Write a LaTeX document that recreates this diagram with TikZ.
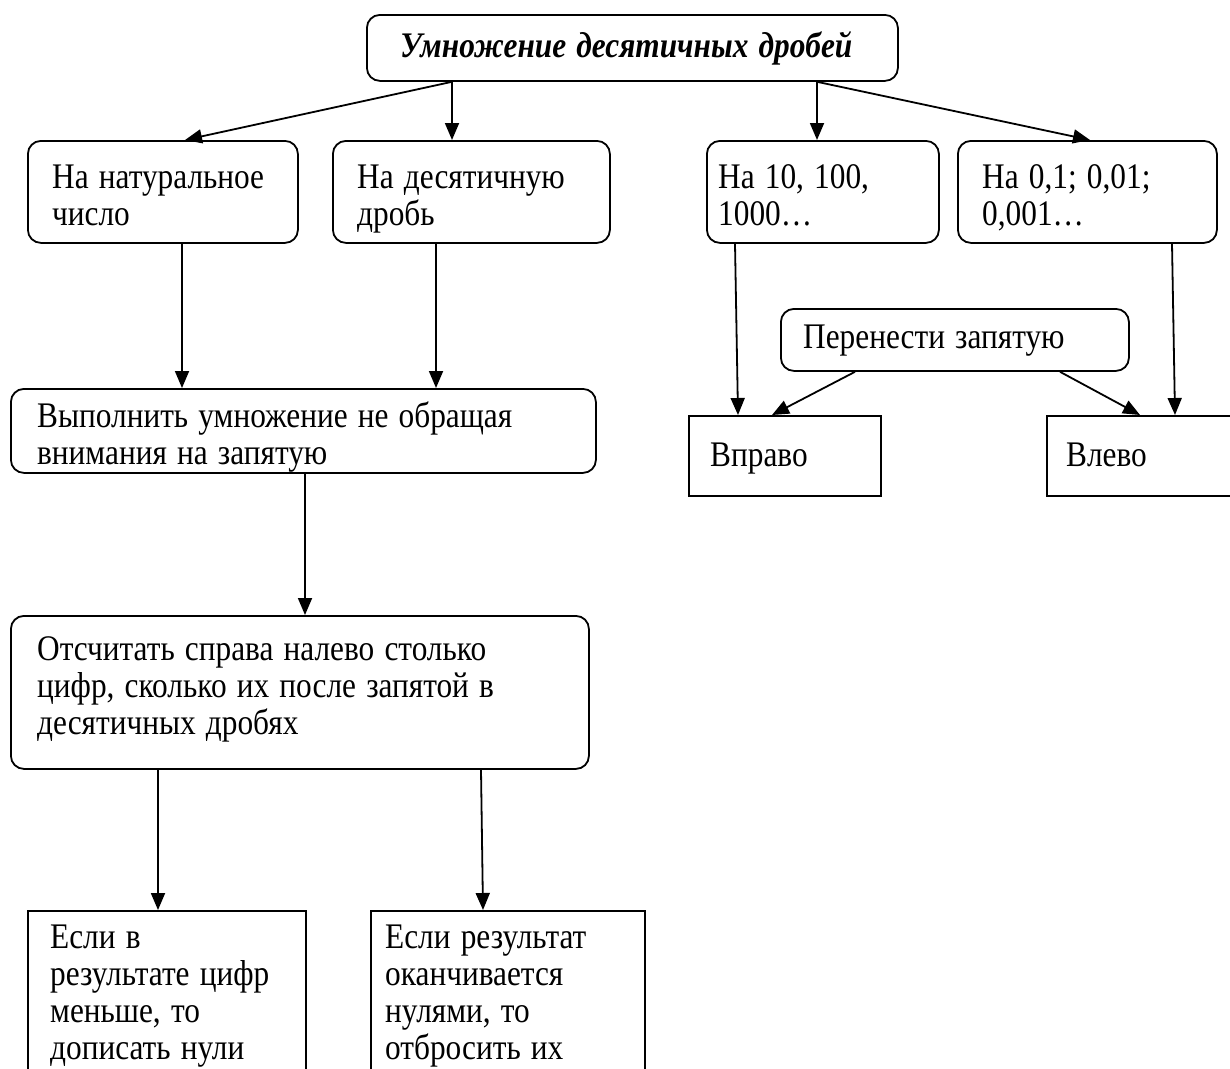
\documentclass[tikz,border=0pt]{standalone}
\usepackage{fontspec}
\setmainfont[FakeStretch=0.87,WordSpace=1.3]{Liberation Serif}
\usetikzlibrary{arrows.meta,calc}
\begin{document}
\begin{tikzpicture}[x=1pt,y=-1pt,
  box/.style={draw, line width=1.8pt, rounded corners=13pt, inner sep=0pt, anchor=north west},
  sbox/.style={box, rounded corners=0pt},
  txt/.style={align=left, inner sep=0pt, anchor=north west,
    font=\fontsize{36}{37}\selectfont, execute at begin node=\strut},
  arr/.style={line width=1.8pt, -{Triangle[length=17pt,width=14pt]}}]
\clip (0,0) rectangle (1230,1068);
\fill[white] (0,0) rectangle (1230,1068);

% boxes
\node[box, minimum width=531pt, minimum height=66pt] (top) at (366,14) {};
\node[box, minimum width=270pt, minimum height=102pt] (b1) at (27,140) {};
\node[box, minimum width=277pt, minimum height=102pt] (b2) at (332,140) {};
\node[box, minimum width=232pt, minimum height=102pt] (b3) at (706,140) {};
\node[box, minimum width=259pt, minimum height=102pt] (b4) at (957,140) {};
\node[box, minimum width=348pt, minimum height=62pt] (pz) at (780,308) {};
\node[sbox, minimum width=192pt, minimum height=80pt] (vpr) at (688,415) {};
\node[sbox, minimum width=200pt, minimum height=80pt] (vlv) at (1046,415) {};
\node[box, minimum width=585pt, minimum height=84pt] (vyp) at (10,388) {};
\node[box, minimum width=578pt, minimum height=153pt] (ots) at (10,615) {};
\node[sbox, minimum width=278pt, minimum height=196pt] (e1) at (27,910) {};
\node[sbox, minimum width=274pt, minimum height=196pt] (e2) at (370,910) {};

% texts
\node[txt, font=\fontsize{36}{37}\selectfont\bfseries\itshape] (topt) at ($(top.north west)+(34,17)$) {Умножение десятичных дробей};
\node[txt] (b1t) at ($(b1.north west)+(25,25)$) {На натуральное\\число};
\node[txt] (b2t) at ($(b2.north west)+(25,25)$) {На десятичную\\дробь};
\node[txt] (b3t) at ($(b3.north west)+(12,24)$) {На 10, 100,\\1000…};
\node[txt] (b4t) at ($(b4.north west)+(25,24)$) {На 0,1; 0,01;\\0,001…};
\node[txt] (pzt) at ($(pz.north west)+(23,14)$) {Перенести запятую};
\node[txt] (vprt) at ($(vpr.north west)+(22,25)$) {Вправо};
\node[txt] (vlvt) at ($(vlv.north west)+(20,25)$) {Влево};
\node[txt] (vypt) at ($(vyp.north west)+(27,14)$) {Выполнить умножение не обращая\\внимания на запятую};
\node[txt] (otst) at ($(ots.north west)+(27,21)$) {Отсчитать справа налево столько\\цифр, сколько их после запятой в\\десятичных дробях};
\node[txt] (e1t) at ($(e1.north west)+(23,15)$) {Если в\\результате цифр\\меньше, то\\дописать нули};
\node[txt] (e2t) at ($(e2.north west)+(15,15)$) {Если результат\\оканчивается\\нулями, то\\отбросить их};

% connectors
\draw[arr] ($(top.south west)+(86,0)$) -- ($(b1.north west)+(158,0)$);
\draw[arr] ($(top.south west)+(86,0)$) -- ($(b2.north west)+(120,0)$);
\draw[arr] ($(top.south west)+(451,0)$) -- ($(b3.north west)+(111,0)$);
\draw[arr] ($(top.south west)+(451,0)$) -- ($(b4.north west)+(133,0)$);

\draw[arr] ($(b1.south west)+(155,0)$) -- ($(vyp.north west)+(172,0)$);
\draw[arr] ($(b2.south west)+(104,0)$) -- ($(vyp.north west)+(426,0)$);
\draw[arr] ($(vyp.south west)+(295,0)$) -- ($(ots.north west)+(295,0)$);
\draw[arr] ($(ots.south west)+(148,0)$) -- ($(e1.north west)+(131,0)$);
\draw[arr] ($(ots.south west)+(471,0)$) -- ($(e2.north west)+(113,0)$);

\draw[arr] ($(b3.south west)+(29,0)$) -- ($(vpr.north west)+(50,0)$);
\draw[arr] ($(b4.south west)+(215,0)$) -- ($(vlv.north west)+(129,0)$);
\draw[arr] ($(pz.south west)+(75,0)$) -- ($(vpr.north west)+(84,0)$);
\draw[arr] ($(pz.south west)+(280,0)$) -- ($(vlv.north west)+(94,0)$);
\end{tikzpicture}
\end{document}
